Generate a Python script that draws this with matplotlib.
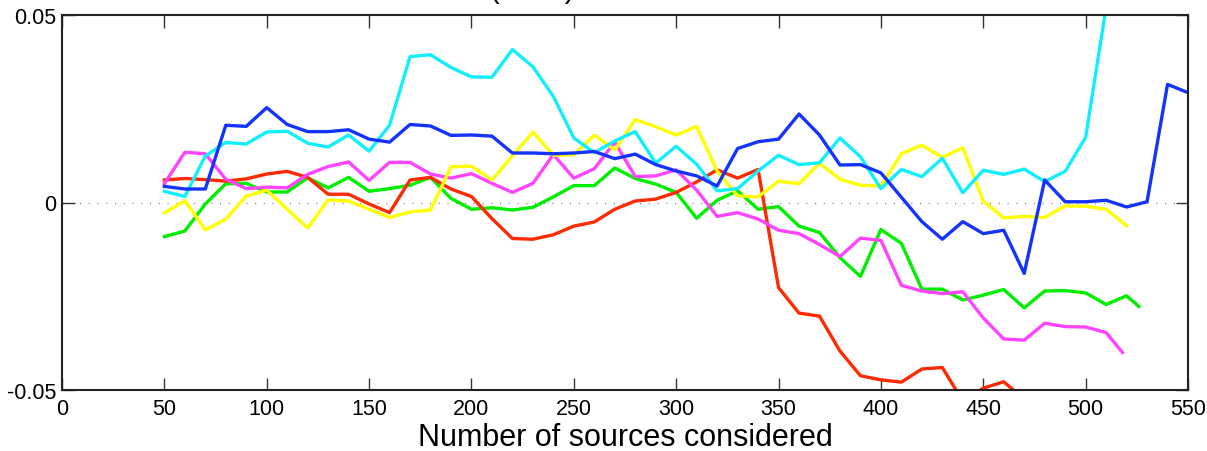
import numpy as np
import matplotlib
matplotlib.use("Agg")
import matplotlib.pyplot as plt

plt.rcParams['font.family'] = ['Liberation Sans', 'DejaVu Sans']

# x positions: every 10 sources from 50, last point at each set's size
x_blue = list(range(50, 551, 10))
blue = [0.0043, 0.0036, 0.0036, 0.0206, 0.0203, 0.0253, 0.0208, 0.0189, 0.0189, 0.0194,
        0.0169, 0.0161, 0.0208, 0.0204, 0.0179, 0.0180, 0.0177, 0.0132, 0.0132, 0.0130,
        0.0132, 0.0136, 0.0117, 0.0129, 0.0101, 0.0084, 0.0071, 0.0044, 0.0144, 0.0162,
        0.0169, 0.0236, 0.0180, 0.0100, 0.0101, 0.0079, 0.0014, -0.0051, -0.0098, -0.0051,
        -0.0083, -0.0074, -0.0189, 0.0060, 0.0002, 0.0002, 0.0006, -0.0012, 0.0002, 0.0315,
        0.0293]

x_cyan = list(range(50, 511, 10))
cyan = [0.0030, 0.0016, 0.0124, 0.0160, 0.0156, 0.0188, 0.0190, 0.0158, 0.0148, 0.0180,
        0.0137, 0.0206, 0.0389, 0.0394, 0.0360, 0.0335, 0.0334, 0.0408, 0.0362, 0.0283,
        0.0172, 0.0133, 0.0164, 0.0189, 0.0105, 0.0150, 0.0102, 0.0031, 0.0037, 0.0084,
        0.0126, 0.0101, 0.0106, 0.0172, 0.0122, 0.0037, 0.0088, 0.0069, 0.0118, 0.0026,
        0.0086, 0.0075, 0.0089, 0.0056, 0.0083, 0.0174, 0.0520]

x_magenta = list(range(50, 511, 10)) + [518]
magenta = [0.0050, 0.0134, 0.0130, 0.0062, 0.0037, 0.0041, 0.0039, 0.0075, 0.0096, 0.0108,
           0.0059, 0.0107, 0.0107, 0.0076, 0.0065, 0.0077, 0.0051, 0.0027, 0.0051, 0.0128,
           0.0065, 0.0090, 0.0161, 0.0069, 0.0071, 0.0087, 0.0033, -0.0037, -0.0027, -0.0044,
           -0.0074, -0.0083, -0.0112, -0.0144, -0.0095, -0.0101, -0.0221, -0.0236, -0.0243,
           -0.0238, -0.0308, -0.0364, -0.0367, -0.0322, -0.0331, -0.0332, -0.0347, -0.0400]

x_red = list(range(50, 471, 10))
red = [0.0060, 0.0064, 0.0061, 0.0057, 0.0063, 0.0076, 0.0083, 0.0067, 0.0022, 0.0022,
       -0.0004, -0.0027, 0.0060, 0.0067, 0.0036, 0.0016, -0.0043, -0.0096, -0.0098, -0.0086,
       -0.0063, -0.0052, -0.0018, 0.0004, 0.0009, 0.0027, 0.0055, 0.0087, 0.0065, 0.0088,
       -0.0227, -0.0295, -0.0303, -0.0396, -0.0462, -0.0473, -0.0479, -0.0444, -0.0440,
       -0.0530, -0.0495, -0.0478, -0.0525]

x_green = list(range(50, 521, 10)) + [526]
green = [-0.0091, -0.0076, -0.0004, 0.0050, 0.0051, 0.0028, 0.0028, 0.0066, 0.0039, 0.0067,
         0.0030, 0.0037, 0.0046, 0.0067, 0.0011, -0.0018, -0.0014, -0.0020, -0.0013, 0.0015,
         0.0045, 0.0045, 0.0092, 0.0064, 0.0049, 0.0027, -0.0042, 0.0006, 0.0031, -0.0018,
         -0.0011, -0.0063, -0.0080, -0.0147, -0.0197, -0.0072, -0.0109, -0.0231, -0.0231,
         -0.0260, -0.0247, -0.0232, -0.0281, -0.0236, -0.0235, -0.0241, -0.0272, -0.0249,
         -0.0277]

x_yellow = list(range(50, 521, 10))
yellow = [-0.0028, 0.0005, -0.0073, -0.0044, 0.0017, 0.0033, -0.0018, -0.0068, 0.0007, 0.0004,
          -0.0018, -0.0040, -0.0025, -0.0020, 0.0095, 0.0097, 0.0060, 0.0124, 0.0188, 0.0126,
          0.0127, 0.0180, 0.0140, 0.0221, 0.0202, 0.0180, 0.0203, 0.0084, 0.0018, 0.0015,
          0.0057, 0.0050, 0.0105, 0.0062, 0.0046, 0.0044, 0.0130, 0.0153, 0.0120, 0.0146,
          0.0004, -0.0041, -0.0037, -0.0040, -0.0009, -0.0010, -0.0018, -0.0062]

x_ticks = list(range(0, 551, 50))
y_ticks = [-0.05, 0, 0.05]
y_ticklabels = ['-0.05', '0', '0.05']

fig = plt.figure(figsize=(12.07, 4.52), dpi=100)
ax = fig.add_axes([62 / 1207, 1 - 391 / 452, (1188 - 62) / 1207, (391 - 16) / 452])

ax.axhline(0, color='#888888', lw=1.0, linestyle=(0, (0.8, 5.5)), zorder=1)

lw = 2.4
ax.plot(x_green, green, color='#00ee00', lw=lw)
ax.plot(x_red, red, color='#ff2a00', lw=lw)
ax.plot(x_magenta, magenta, color='#ff44ff', lw=lw)
ax.plot(x_yellow, yellow, color='#ffff00', lw=lw)
ax.plot(x_cyan, cyan, color='#11eeff', lw=lw)
ax.plot(x_blue, blue, color='#1433ff', lw=lw)

ax.set_xlim(0, 550)
ax.set_ylim(-0.05, 0.05)
ax.set_xticks(x_ticks)
ax.set_yticks(y_ticks)
ax.set_yticklabels(y_ticklabels)
ax.tick_params(direction='in', length=9, width=1, color='#333333',
               top=True, right=True, labelsize=15.5, pad=6)
ax.tick_params(axis='y', pad=4)
for s in ax.spines.values():
    s.set_linewidth(1.5)
    s.set_color('#222222')

ax.set_xlabel('Number of sources considered', fontsize=22, labelpad=2)

fig.text(532 / 1207, 1.004, '(        )', ha='center', va='baseline', fontsize=21)

fig.savefig('out.png', dpi=100)
